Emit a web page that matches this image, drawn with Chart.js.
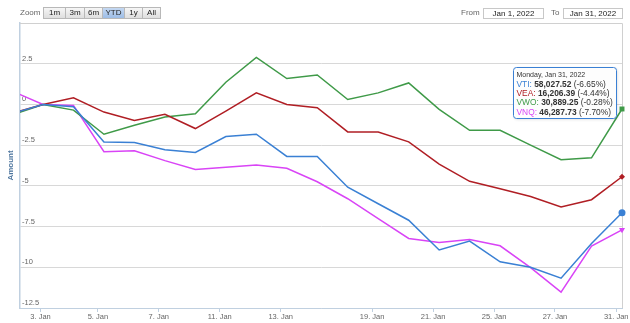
<!DOCTYPE html>
<html>
<head>
<meta charset="utf-8">
<script src="https://cdn.jsdelivr.net/npm/chart.js@4.4.0/dist/chart.umd.min.js"></script>
<style>
    html, body { margin: 0; padding: 0; background: #fff; }
    #wrap { position: relative; width: 630px; height: 323px; font-family: "Liberation Sans", Arial, sans-serif; }
    #chart { position: absolute; left: 0; top: 0; }
    .lbl { position: absolute; top: 8px; font-size: 8px; color: #666; line-height: 10px; }
    .btn { position: absolute; top: 7px; height: 12px; box-sizing: border-box; border: 1px solid #b8b8b8;
           background: linear-gradient(#f6f6f6, #dedede); font-size: 8px; line-height: 10px; text-align: center; color: #222; }
    .btn.on { background: linear-gradient(#c4d8f2, #9dbde6); }
    .inp { position: absolute; top: 8px; height: 11px; box-sizing: border-box; border: 1px solid #c8c8c8;
           font-size: 8px; line-height: 9px; text-align: center; color: #222; background: #fff; }
</style>
</head>
<body>
<div id="wrap">
    <canvas id="chart" width="630" height="323"></canvas>
    <div class="lbl" style="left:20px">Zoom</div>
    <div id="buttons"></div>
    <div class="lbl" style="left:461px">From</div>
    <div class="inp" style="left:483px;width:61px">Jan 1, 2022</div>
    <div class="lbl" style="left:551px">To</div>
    <div class="inp" style="left:563px;width:60px">Jan 31, 2022</div>
</div>
<script>
// Días de cotización (el primero es el cierre previo, queda recortado a la izquierda)
const dates = ['2021-12-31', '2022-01-03', '2022-01-04', '2022-01-05', '2022-01-06', '2022-01-07',
    '2022-01-10', '2022-01-11', '2022-01-12', '2022-01-13', '2022-01-14', '2022-01-18',
    '2022-01-19', '2022-01-20', '2022-01-21', '2022-01-24', '2022-01-25', '2022-01-26',
    '2022-01-27', '2022-01-28', '2022-01-31'];

// Variación % respecto al 3 de enero
const vti = [-0.55, 0, -0.14, -2.3, -2.34, -2.78, -2.95, -1.97, -1.83, -3.19, -3.19,
    -5.08, -6.1, -7.11, -8.94, -8.39, -9.66, -10.0, -10.67, -8.54, -6.65];
const vea = [-0.54, 0, 0.41, -0.47, -0.98, -0.61, -1.48, -0.41, 0.71, 0.0, -0.2,
    -1.69, -1.69, -2.3, -3.66, -4.72, -5.18, -5.65, -6.3, -5.85, -4.44];
const vwo = [-0.64, 0, -0.35, -1.83, -1.28, -0.77, -0.57, 1.36, 2.89, 1.59, 1.81,
    0.3, 0.71, 1.32, -0.3, -1.59, -1.59, -2.5, -3.4, -3.28, -0.28];
const vnq = [0.81, 0, -0.06, -2.9, -2.85, -3.45, -4.0, -3.86, -3.72, -3.92, -4.75,
    -5.79, -7.01, -8.23, -8.48, -8.29, -8.68, -10.02, -11.52, -8.7, -7.70];

const seriesNames = ['VTI', 'VEA', 'VWO', 'VNQ'];
const lastCloses = [58027.52, 16206.39, 30889.25, 46287.73];

// Etiquetas del eje X
const tickDates = ['2022-01-03', '2022-01-05', '2022-01-07', '2022-01-11', '2022-01-13',
    '2022-01-19', '2022-01-21', '2022-01-25', '2022-01-27', '2022-01-31'];
const tickLabels = ['3. Jan', '5. Jan', '7. Jan', '11. Jan', '13. Jan',
    '19. Jan', '21. Jan', '25. Jan', '27. Jan', '31. Jan'];

const zoomButtons = ['1m', '3m', '6m', 'YTD', '1y', 'All'];

const colors = ['#3a80d4', '#b01e24', '#3f9a48', '#d944f6'];
const markers = [
    { style: 'circle', radius: 3.5, rotation: 0 },
    { style: 'rectRot', radius: 3, rotation: 0 },
    { style: 'rect', radius: 3.5, rotation: 0 },
    { style: 'triangle', radius: 3.5, rotation: 180 }
];

// Botones del selector de rango
(function () {
    const widths = [22, 19, 18, 22, 18, 18];
    let left = 43;
    const box = document.getElementById('buttons');
    zoomButtons.forEach((b, i) => {
        const el = document.createElement('div');
        el.className = 'btn' + (b === 'YTD' ? ' on' : '');
        el.style.left = left + 'px';
        el.style.width = (widths[i] + 1) + 'px';
        el.textContent = b;
        box.appendChild(el);
        left += widths[i];
    });
})();

const last = dates.length - 1;
const allSeries = [vti, vea, vwo, vnq];

function fmtPct(v) {
    return (v < 0 ? '-' : '') + Math.abs(v).toFixed(2) + '%';
}

// Tooltip fijo sobre el último día
const tipPlugin = {
    id: 'fixedTip',
    afterDraw(chart) {
        const ctx = chart.ctx;
        const xs = chart.scales.x;
        const head = 'Monday, Jan 31, 2022';
        const rows = seriesNames.map((n, i) => ({
            name: n + ': ',
            val: lastCloses[i].toLocaleString('en-US', { minimumFractionDigits: 2 }),
            pct: ' (' + fmtPct(allSeries[i][last]) + ')',
            color: colors[i]
        }));
        const fN = '8.4px "Liberation Sans", Arial, sans-serif';
        const fB = 'bold 8.4px "Liberation Sans", Arial, sans-serif';
        const fH = '7px "Liberation Sans", Arial, sans-serif';
        ctx.save();
        let w = 0;
        ctx.font = fH;
        w = ctx.measureText(head).width;
        rows.forEach(r => {
            ctx.font = fN;
            let rw = ctx.measureText(r.name).width + ctx.measureText(r.pct).width;
            ctx.font = fB;
            rw += ctx.measureText(r.val).width;
            w = Math.max(w, rw);
        });
        const pad = 3.5;
        const bw = Math.round(w + pad * 2);
        const bh = 51;
        const bx = Math.round(xs.getPixelForValue(last)) - 6 - bw;
        const by = 67;
        ctx.shadowColor = 'rgba(0,0,0,0.15)';
        ctx.shadowBlur = 3;
        ctx.shadowOffsetX = 1;
        ctx.shadowOffsetY = 1;
        ctx.fillStyle = 'rgba(255,255,255,0.92)';
        ctx.beginPath();
        ctx.roundRect(bx + 0.5, by + 0.5, bw, bh, 3);
        ctx.fill();
        ctx.shadowColor = 'transparent';
        ctx.strokeStyle = colors[0];
        ctx.lineWidth = 1;
        ctx.stroke();

        ctx.textBaseline = 'middle';
        ctx.fillStyle = '#333';
        ctx.font = fH;
        ctx.fillText(head, bx + pad, by + 8);
        rows.forEach((r, i) => {
            const y = by + 17.3 + i * 9.3;
            let x = bx + pad;
            ctx.font = fN;
            ctx.fillStyle = r.color;
            ctx.fillText(r.name, x, y);
            x += ctx.measureText(r.name).width;
            ctx.font = fB;
            ctx.fillStyle = '#333';
            ctx.fillText(r.val, x, y);
            x += ctx.measureText(r.val).width;
            ctx.font = fN;
            ctx.fillText(r.pct, x, y);
        });
        ctx.restore();
    }
};

// Borde superior y derecho del área del gráfico
const borderPlugin = {
    id: 'plotBorder',
    beforeDatasetsDraw(chart) {
        const a = chart.chartArea;
        const ctx = chart.ctx;
        ctx.save();
        ctx.strokeStyle = '#d0d0d0';
        ctx.lineWidth = 1;
        ctx.beginPath();
        ctx.moveTo(a.left, a.top + 0.5);
        ctx.lineTo(a.right + 0.5, a.top + 0.5);
        ctx.lineTo(a.right + 0.5, a.bottom);
        ctx.stroke();
        ctx.restore();
    }
};

const datasets = allSeries.map((s, i) => ({
    label: seriesNames[i],
    data: s.map((v, j) => ({ x: j, y: v })),
    borderColor: colors[i],
    backgroundColor: colors[i],
    borderWidth: 1.5,
    tension: 0,
    pointStyle: markers[i].style,
    pointRotation: markers[i].rotation,
    pointRadius: ctx => ctx.dataIndex === last ? markers[i].radius : 0,
    pointBorderWidth: 0,
    clip: { left: 0, top: 0, right: 10, bottom: 0 }
}));

const tickPos = tickDates.map(d => dates.indexOf(d) - 0.2);
tickPos[0] = 0.92;
tickPos[tickPos.length - 1] = last - 0.19;

new Chart(document.getElementById('chart'), {
    type: 'line',
    data: { datasets: datasets },
    options: {
        responsive: false,
        animation: false,
        events: [],
        layout: { padding: { top: 23, right: 8, bottom: 0, left: 0 } },
        plugins: { legend: { display: false }, tooltip: { enabled: false } },
        scales: {
            x: {
                type: 'linear',
                min: 0.245,
                max: last,
                afterBuildTicks: s => { s.ticks = tickPos.map(v => ({ value: v })); },
                afterFit: s => { s.height = 15; s.paddingLeft = 0; s.paddingRight = 0; },
                ticks: {
                    autoSkip: false,
                    maxRotation: 0,
                    padding: 0,
                    color: '#666',
                    font: { family: '"Liberation Sans", Arial, sans-serif', size: 7.5 },
                    callback: (v, i) => tickLabels[i]
                },
                grid: { drawOnChartArea: false, drawTicks: true, tickLength: 4, color: '#c0d0e0' },
                border: { color: '#c0d0e0', width: 1 }
            },
            y: {
                min: -12.5,
                max: 5,
                afterFit: s => { s.width = 20; },
                ticks: {
                    stepSize: 2.5,
                    mirror: true,
                    padding: 2,
                    labelOffset: -5,
                    color: '#666',
                    font: { family: '"Liberation Sans", Arial, sans-serif', size: 7.5 },
                    callback: v => v === 5 ? '' : String(v)
                },
                grid: { color: '#d8d8d8', lineWidth: 1, drawTicks: false },
                border: { color: '#c0d0e0', width: 1.5 },
                title: {
                    display: true,
                    text: 'Amount',
                    color: '#4d759e',
                    padding: { top: 6, bottom: 0 },
                    font: { family: '"Liberation Sans", Arial, sans-serif', size: 8, weight: 'bold' }
                }
            }
        }
    },
    plugins: [borderPlugin, tipPlugin]
});
</script>
</body>
</html>
